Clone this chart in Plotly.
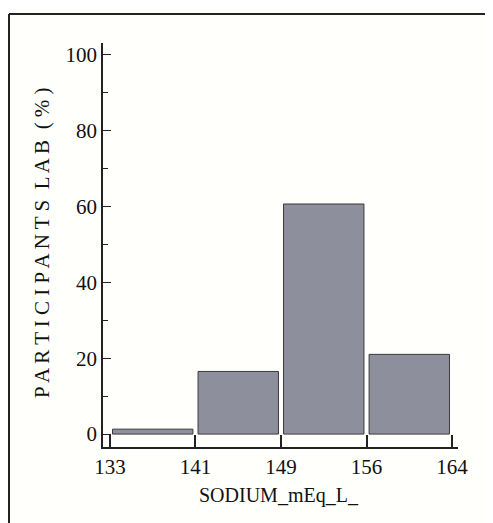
import plotly.graph_objects as go

# Data
bin_edges = [133, 140.75, 148.5, 156.25, 164]
tick_labels = ["133", "141", "149", "156", "164"]
percent = [1.3, 16.5, 60.6, 21.0]
y_ticks = [0, 20, 40, 60, 80, 100]

centers = [(bin_edges[i] + bin_edges[i + 1]) / 2 for i in range(len(percent))]
widths = [(bin_edges[i + 1] - bin_edges[i]) * 0.94 for i in range(len(percent))]

FONT = "Liberation Serif"
OFF = 8  # page body margin

fig = go.Figure()
fig.add_trace(go.Bar(
    x=centers, y=percent, width=widths,
    marker=dict(color="#8d8f9d", line=dict(color="#3a3a3a", width=1)),
    hoverinfo="skip",
))

W, H = 493 - OFF, 523 - OFF
L = 103 - OFF
T = 43 - OFF
R = W - (458 - OFF)
B = H - (447 - OFF)
pw = W - L - R
ph = H - T - B

def px(x):
    return (x - OFF - L) / pw

def py(y):
    return (H - B - (y - OFF)) / ph

tickfont = dict(family=FONT, size=21, color="#111")

fig.update_layout(
    width=W, height=H,
    margin=dict(l=L, r=R, t=T, b=B, pad=0),
    paper_bgcolor="#fffffb",
    plot_bgcolor="#fffffb",
    showlegend=False,
    font=dict(family=FONT, color="#111", size=20),
    xaxis=dict(
        range=[132.37, 164.54],
        tickvals=bin_edges, ticktext=tick_labels,
        ticks="inside", ticklen=12, tickwidth=1.5, tickcolor="#222",
        showline=True, linecolor="#222", linewidth=2,
        showgrid=False, zeroline=False,
        tickfont=tickfont,
    ),
    yaxis=dict(
        range=[-3.4, 103],
        tickvals=y_ticks,
        ticks="inside", ticklen=8, tickwidth=1.2, tickcolor="#222",
        minor=dict(tickvals=[10, 30, 50, 70, 90], ticks="inside", ticklen=5, tickcolor="#222", tickwidth=1),
        showline=True, linecolor="#222", linewidth=1.5,
        showgrid=False, zeroline=False,
        tickfont=tickfont,
    ),
    shapes=[
        dict(type="line", xref="paper", yref="paper", x0=px(9), x1=px(493 + 5), y0=py(14), y1=py(14),
             line=dict(color="#222", width=2)),
        dict(type="line", xref="paper", yref="paper", x0=px(9), x1=px(9), y0=py(14), y1=py(523 + 5),
             line=dict(color="#222", width=2)),
    ],
    annotations=[
        dict(text="P A R T I C I P A N T S  L A B  ( % )", xref="paper", yref="paper",
             x=px(42), y=py(243), textangle=-90, showarrow=False,
             font=dict(family=FONT, size=21, color="#111"),
             xanchor="center", yanchor="middle"),
        dict(text="SODIUM_mEq_L_", xref="paper", yref="paper",
             x=px(279), y=py(496), showarrow=False,
             font=dict(family=FONT, size=20, color="#111"),
             xanchor="center", yanchor="middle"),
    ],
)

fig.write_html("out.html")
